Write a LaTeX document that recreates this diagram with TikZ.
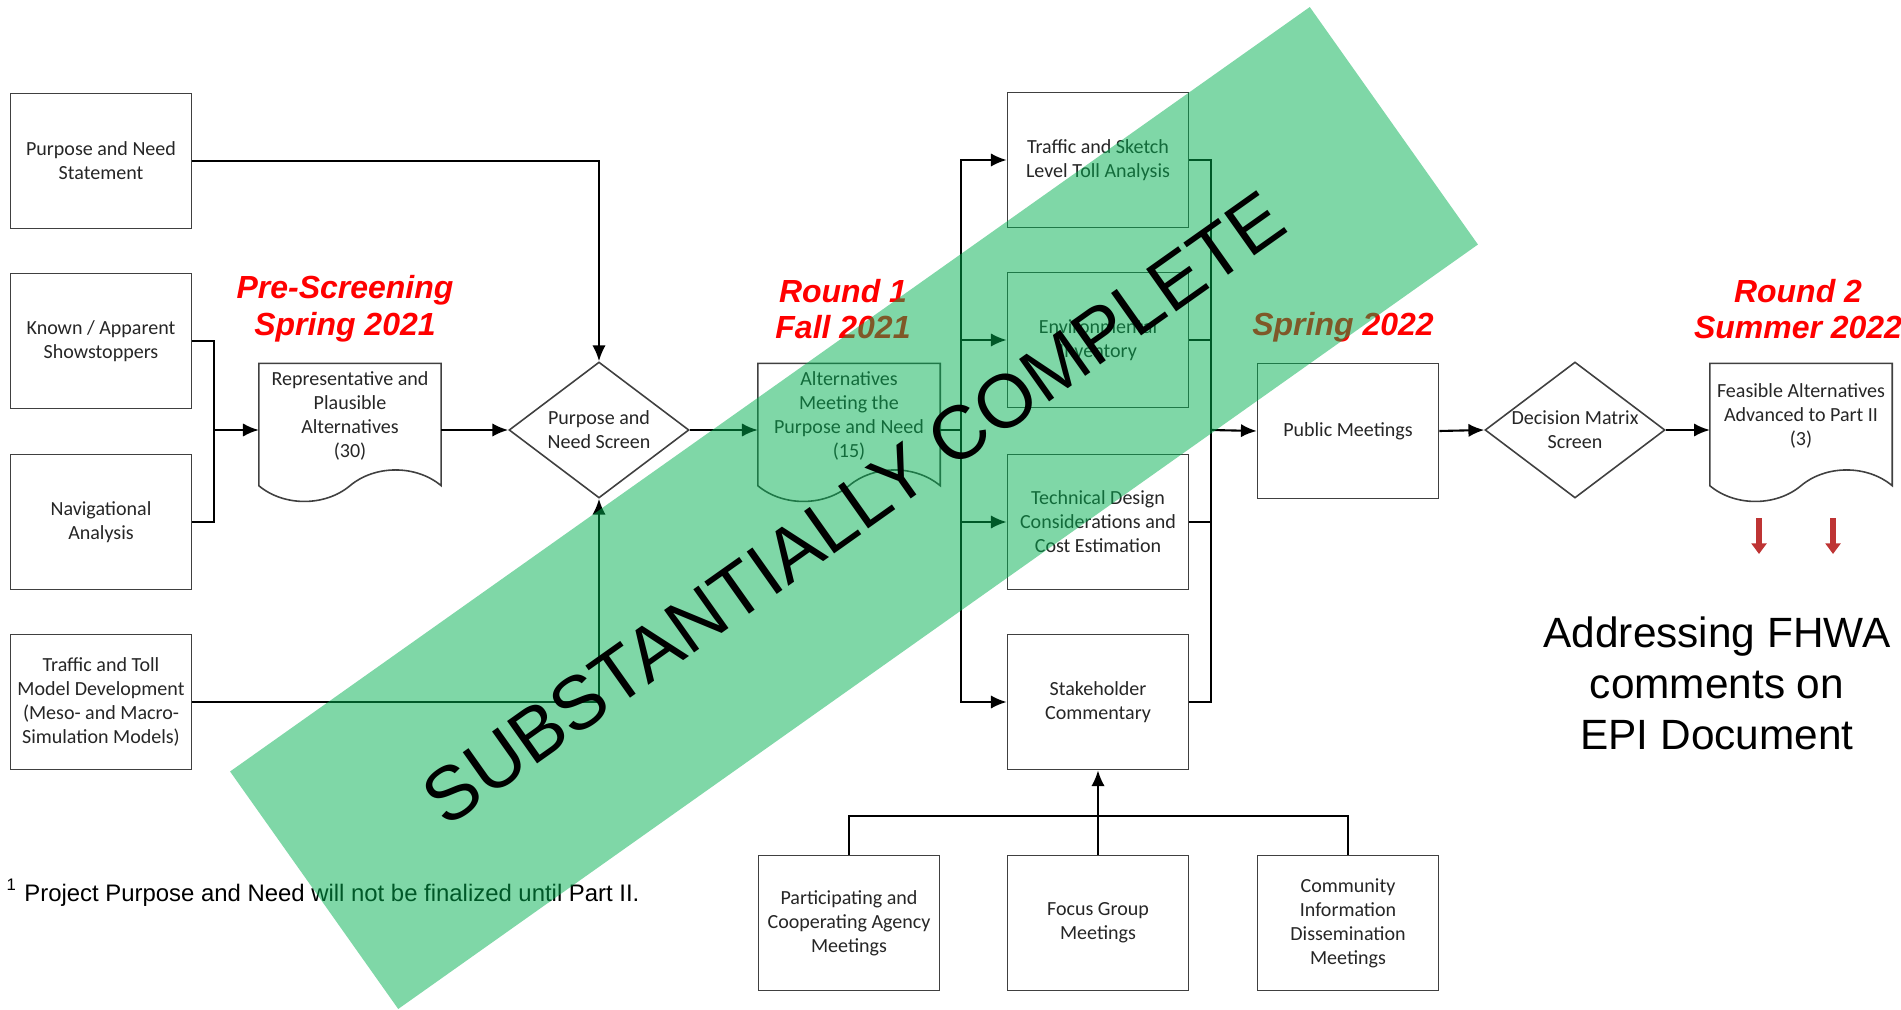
\documentclass[tikz,border=0pt]{standalone}
\usepackage{fontspec}
\setmainfont{Liberation Sans}
\newfontfamily\boxfont{Carlito}
\usepackage{tikz}
\usetikzlibrary{arrows.meta}
\usetikzlibrary{shapes.geometric}
\definecolor{stampgreen}{RGB}{0,176,80}
\definecolor{phasered}{RGB}{255,0,0}
\definecolor{tipred}{RGB}{190,52,52}
\tikzset{box/.style={shape=rectangle, draw=black!75, line width=0.45pt, fill=white,
    minimum width=18.1mm, minimum height=13.5mm, inner sep=1pt, align=center, text=black!85,
    font=\boxfont\fontsize{5.7}{6.8}\selectfont}}
\tikzset{docnode/.style={shape=rectangle, draw=none, minimum width=18.1mm,
    minimum height=10.4mm, inner sep=0pt, align=center, text=black!85,
    font=\boxfont\fontsize{5.7}{6.8}\selectfont}}
\tikzset{decision/.style={shape=diamond, draw=black!75, line width=0.45pt, fill=white,
    minimum width=18mm, minimum height=13.6mm, inner sep=0pt}}
\tikzset{boxlabel/.style={align=center, text=black!85, inner sep=0pt,
    font=\boxfont\fontsize{5.7}{6.8}\selectfont}}
\tikzset{flow/.style={draw=black, line width=0.6pt, -{Latex[length=4.5pt,width=3.8pt]}}}
\tikzset{link/.style={draw=black, line width=0.6pt}}
\tikzset{redarrow/.style={draw=tipred, line width=1.5pt, -{Triangle[length=3pt,width=4.2pt]}}}
\tikzset{phase/.style={text=phasered, align=center,
    font=\fontsize{9.1}{10.4}\selectfont\bfseries\itshape}}
\tikzset{note/.style={align=center, font=\fontsize{12.05}{14.5}\selectfont}}
\tikzset{foot/.style={inner sep=0pt, font=\fontsize{6.8}{8}\selectfont}}
\tikzset{banner/.style={shape=rectangle, draw=none, fill=stampgreen, fill opacity=0.5,
    minimum width=132.3mm, minimum height=29.1mm, rotate=35.3}}
\tikzset{stamptext/.style={inner sep=0pt, rotate=35.3, font=\fontsize{21.5}{26}\selectfont}}
\newcommand\docoutline[1]{\draw[draw=black!75, line width=0.45pt] (#1.north west) -- (#1.north east)
    -- ([yshift=-1.7mm]#1.south east) .. controls +(-25,-21) and +(25,-21) .. ([yshift=-1.7mm]#1.south)
    .. controls +(-25,21) and +(25,21) .. ([yshift=-1.7mm]#1.south west) -- cycle;}

\begin{document}
\begin{tikzpicture}[x=0.1mm, y=-0.1mm]
            \useasboundingbox (0,0) rectangle (1901,1010);

                \node[box] (pns) at (101,161) {Purpose and Need\\Statement};
                \node[box] (kas) at (101,341) {Known / Apparent\\Showstoppers};
                \node[box] (nav) at (101,522) {Navigational\\Analysis};
                \node[box] (ttm) at (101,702) {Traffic and Toll\\Model Development\\(Meso- and Macro-\\Simulation Models)};
                \node[docnode] (rpa) at (350,416) {Representative and\\Plausible\\Alternatives\\(30)};
                \docoutline{rpa}
                \node[decision, label={[boxlabel]center:Purpose and\\Need Screen}] (pnscr) at (599,430) {};
                \node[docnode] (amp) at (849,416) {Alternatives\\Meeting the\\Purpose and Need\\(15)};
                \docoutline{amp}
                \node[box] (tsl) at (1098,160) {Traffic and Sketch\\Level Toll Analysis};
                \node[box] (env) at (1098,340) {Environmental\\Inventory};
                \node[box] (tdc) at (1098,522) {Technical Design\\Considerations and\\Cost Estimation};
                \node[box] (stk) at (1098,702) {Stakeholder\\Commentary};
                \node[box] (pm) at (1348,431) {Public Meetings};
                \node[decision, label={[boxlabel]center:Decision Matrix\\Screen}] (dms) at (1575,430) {};
                \node[docnode] (fap) at (1801,416) {Feasible Alternatives\\Advanced to Part II\\(3)};
                \docoutline{fap}
                \node[box] (pca) at (849,923) {Participating and\\Cooperating Agency\\Meetings};
                \node[box] (fgm) at (1098,923) {Focus Group\\Meetings};
                \node[box] (cid) at (1348,923) {Community\\Information\\Dissemination\\Meetings};

                \coordinate (jnl) at (214,430);
                \coordinate (busl) at (961,430);
                \coordinate (busr) at (1211,430);
                \coordinate (busb) at (1098,816);
                \coordinate (ra) at (1759,518);
                \coordinate (rb) at (1833,518);

                \draw[flow] (pns.east) -| (pnscr.north);
                \draw[link] (kas.east) -| (jnl) |- (nav.east);
                \draw[flow] (jnl) -- (jnl -| rpa.west);
                \draw[flow] (pnscr.west -| rpa.east) -- (pnscr.west);
                \draw[flow] (ttm.east) -| (pnscr.south);
                \draw[flow] (pnscr.east) -- (pnscr.east -| amp.west);
                \draw[link] (busl -| amp.east) -- (busl);
                \draw[flow] (busl) |- (tsl.west);
                \draw[flow] (busl) |- (env.west);
                \draw[flow] (busl) |- (tdc.west);
                \draw[flow] (busl) |- (stk.west);
                \draw[link] (tsl.east) -| (busr);
                \draw[link] (env.east) -| (busr);
                \draw[link] (tdc.east) -| (busr);
                \draw[link] (stk.east) -| (busr);
                \draw[flow] (busr) -- (pm.west);
                \draw[flow] (pm.east) -- (dms.west);
                \draw[flow] (dms.east) -- (dms.east -| fap.west);
                \draw[link] (pca.north) |- (busb) -| (cid.north);
                \draw[flow] (fgm.north) -- (stk.south);
                \draw[redarrow] (ra) -- ++(0,36);
                \draw[redarrow] (rb) -- ++(0,36);

                \node[phase] (pre) at (345,309) {Pre-Screening\\Spring 2021};
                \node[phase] (rone) at (843,309) {Round 1\\Fall 2021};
                \node[phase] (spring) at (1343,327) {Spring 2022};
                \node[phase] (rtwo) at (1798,309) {Round 2\\Summer 2022};
                \node[note] (fhwa) at (1717,683) {Addressing FHWA\\comments on\\EPI Document};
                \node[foot, anchor=west] (fn) at (6,893) {\textsuperscript{1} Project Purpose and Need will not be finalized until Part II.};

                \node[banner] (stamp) at (854,508) {};
                \node[stamptext] (stamplabel) at (stamp.center) {SUBSTANTIALLY COMPLETE};

            \end{tikzpicture}
\end{document}
